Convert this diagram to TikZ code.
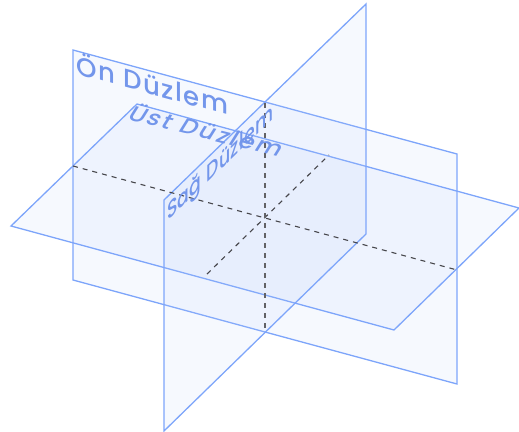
\documentclass[tikz,border=0pt]{standalone}
\usepackage{fontspec}
\setmainfont{Poppins Medium}
\definecolor{planeline}{RGB}{125,165,250}
\definecolor{planefill}{RGB}{185,205,250}
\definecolor{labelcol}{RGB}{115,150,235}
\definecolor{dashcol}{RGB}{70,70,75}
\tikzset{
  plane/.style={draw=planeline,line width=1.3pt,fill=planefill,fill opacity=.13,line join=miter},
  axisline/.style={draw=dashcol,line width=1.1pt,dash pattern=on 5pt off 5pt},
  planelabel/.style={text=labelcol,inner sep=0pt,anchor=base west,transform shape}
}
\begin{document}
\begin{tikzpicture}[x=1pt,y=-1pt]
\useasboundingbox (0,0) rectangle (519,431);
\coordinate (f1) at (73,50); \coordinate (f2) at (457,154); \coordinate (f3) at (457,384); \coordinate (f4) at (73,280);
\coordinate (t1) at (137,104); \coordinate (t2) at (519,208); \coordinate (t3) at (394,330); \coordinate (t4) at (11,226);
\coordinate (r1) at (366,4); \coordinate (r2) at (366,234); \coordinate (r3) at (164,431); \coordinate (r4) at (164,200);
\coordinate (al) at (73,166); \coordinate (ar) at (457,270);
\coordinate (df) at (207,274); \coordinate (db) at (329,155);
\coordinate (vt) at (265,103); \coordinate (vb) at (265,331);
\path[plane] (f1) -- (f2) -- (f3) -- (f4) -- cycle;
\path[plane] (t1) -- (t2) -- (t3) -- (t4) -- cycle;
\path[plane] (r1) -- (r2) -- (r3) -- (r4) -- cycle;
\draw[axisline] (al) -- (ar);
\draw[axisline] (df) -- (db);
\draw[axisline,draw=dashcol!85,line width=1.5pt] (vt) -- (vb);
\begin{scope}[shift={(76,74)},cm={1,-.27,0,1,(0,0)}]
\node[planelabel,font=\fontsize{26}{28}\selectfont\addfontfeature{LetterSpace=6}] (on) at (0,0) {Ön Düzlem};
\end{scope}
\begin{scope}[shift={(126,119)},cm={1,-.25,.5,.8,(0,0)}]
\node[planelabel,font=\fontsize{24}{24}\selectfont\addfontfeature{LetterSpace=9}] (ust) at (0,0) {Üst Düzlem};
\end{scope}
\begin{scope}[shift={(167,222)},cm={.72,.70,0,1,(0,0)}]
\node[planelabel,font=\fontsize{24}{24}\selectfont\addfontfeature{LetterSpace=2}] (sag) at (0,0) {Sağ Düzlem};
\end{scope}
\end{tikzpicture}
\end{document}
